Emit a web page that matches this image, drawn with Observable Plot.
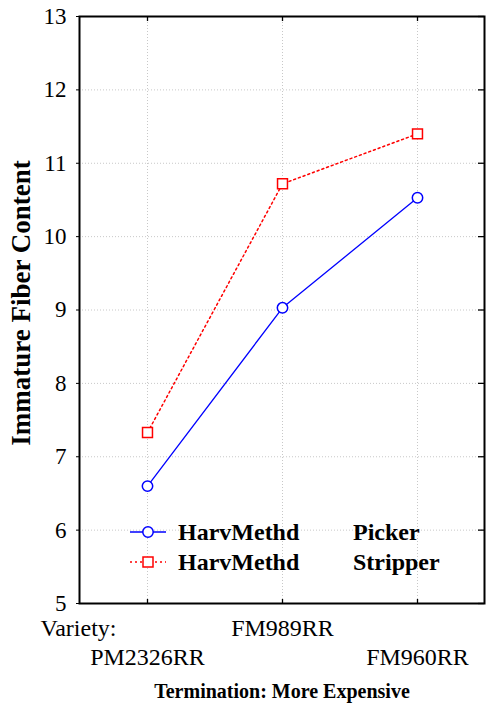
<!DOCTYPE html>
<html><head><meta charset="utf-8">
<script src="https://cdn.jsdelivr.net/npm/d3@7"></script>
<script src="https://cdn.jsdelivr.net/npm/@observablehq/plot@0.6"></script>
<style>
body{margin:0;background:#fff;}
#wrap{position:relative;width:486px;height:708px;font-family:"Liberation Serif","Times New Roman",serif;}
#legend{position:absolute;left:125px;top:517px;font-weight:bold;font-size:24px;color:#000;}
.row{position:relative;height:30px;line-height:30px;white-space:nowrap;}
.row svg{position:absolute;left:0;top:0;}
.row .a{position:absolute;left:53px;top:0;}
.row .b{position:absolute;left:228px;top:0;}
</style></head>
<body><div id="wrap"><div id="legend"></div></div>
<script>
const varieties = ["PM2326RR","FM989RR","FM960RR"];
const pickerValues = [6.60, 9.03, 10.53];
const stripperValues = [7.33, 10.72, 11.40];
const yTicks = [5,6,7,8,9,10,11,12,13];
const yLabel = "Immature Fiber Content";
const xTitle = "Termination: More Expensive";
const factorLabel = "Variety:";
const legendFactor = "HarvMethd";
const legendLevels = ["Picker","Stripper"];

const picker = varieties.map((v,i)=>({variety:v, value:pickerValues[i]}));
const stripper = varieties.map((v,i)=>({variety:v, value:stripperValues[i]}));

const font = "'Liberation Serif', 'Times New Roman', serif";
const chart = Plot.plot({
  width: 486, height: 708,
  marginLeft: 79, marginRight: 2, marginTop: 16, marginBottom: 105,
  style: {fontFamily: font, background: "#fff", color: "#000"},
  x: {type: "point", domain: varieties, padding: 0.5, axis: null},
  y: {domain: [5, 13], axis: null},
  marks: [
    Plot.gridY(yTicks, {stroke: "#c8c8c8", strokeOpacity: 1, strokeDasharray: "1,2"}),
    Plot.gridX(varieties, {stroke: "#c8c8c8", strokeOpacity: 1, strokeDasharray: "1,2"}),
    Plot.axisY(yTicks, {tickSize: 3, tickPadding: 10, fontSize: 23, fontFamily: font, label: null, stroke: "#000", tickFormat: d3.format("d")}),
    Plot.tickY(yTicks, {y: d=>d, insetLeft: 399, stroke: "#000", strokeWidth: 1.3}),
    Plot.tickX(varieties, {x: d=>d, insetBottom: 582, stroke: "#000", strokeWidth: 1.3}),
    Plot.tickX(varieties, {x: d=>d, insetTop: 583, stroke: "#000", strokeWidth: 1.3}),
    Plot.frame({stroke: "#000", strokeWidth: 2}),
    Plot.line(stripper, {x: "variety", y: "value", stroke: "#ff0000", strokeWidth: 1.5, strokeDasharray: "2,3"}),
    Plot.line(picker, {x: "variety", y: "value", stroke: "#0000ff", strokeWidth: 1.3}),
    Plot.dot(stripper, {x: "variety", y: "value", symbol: "square", r: 5.6, stroke: "#ff0000", strokeWidth: 1.5, fill: "#fff"}),
    Plot.dot(picker, {x: "variety", y: "value", r: 5.2, stroke: "#0000ff", strokeWidth: 1.5, fill: "#fff"}),
    Plot.text(varieties.filter((d,i)=>i!==1), {x: d=>d, text: d=>d, frameAnchor: "bottom", dy: 54, fontSize: 24, fontFamily: font, lineAnchor: "middle"}),
    Plot.text(varieties.filter((d,i)=>i===1), {x: d=>d, text: d=>d, frameAnchor: "bottom", dy: 25, fontSize: 24, fontFamily: font, lineAnchor: "middle"}),
    Plot.text([factorLabel], {text: d=>d, frameAnchor: "bottom-left", dx: -39, dy: 25, textAnchor: "start", fontSize: 24, fontFamily: font, lineAnchor: "middle"}),
    Plot.text([xTitle], {text: d=>d, frameAnchor: "bottom", dy: 88, fontSize: 20, fontWeight: "bold", fontFamily: font, lineAnchor: "middle"}),
    Plot.text([yLabel], {text: d=>d, frameAnchor: "left", textAnchor: "middle", dx: -58, dy: -7, rotate: -90, fontSize: 27, fontWeight: "bold", fontFamily: font, lineAnchor: "middle"})
  ]
});
const wrap = document.getElementById("wrap");
wrap.insertBefore(chart, wrap.firstChild);
chart.style.display = "block";

const swatches = [
  `<svg width="44" height="30"><line x1="5" y1="15" x2="41" y2="15" stroke="#0000ff" stroke-width="1.3"/><circle cx="23" cy="15" r="5.2" fill="#fff" stroke="#0000ff" stroke-width="1.5"/></svg>`,
  `<svg width="44" height="30"><line x1="5" y1="15" x2="41" y2="15" stroke="#ff0000" stroke-width="1.5" stroke-dasharray="2,3"/><rect x="18" y="10" width="10" height="10" fill="#fff" stroke="#ff0000" stroke-width="1.5"/></svg>`
];
const legend = document.getElementById("legend");
legendLevels.forEach((lv,i)=>{
  const r = document.createElement("div");
  r.className = "row";
  r.innerHTML = swatches[i] + `<span class="a">${legendFactor}</span><span class="b">${lv}</span>`;
  legend.appendChild(r);
});
</script></body></html>
